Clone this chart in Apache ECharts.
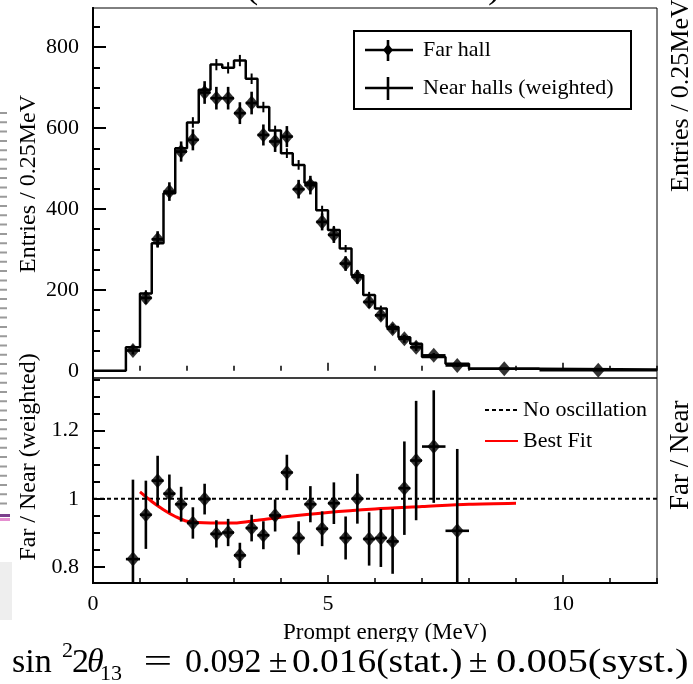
<!DOCTYPE html>
<html>
<head>
<meta charset="utf-8">
<script src="https://cdn.jsdelivr.net/npm/echarts@6/dist/echarts.min.js"></script>
<style>
  html, body { margin: 0; padding: 0; background: #fff; }
  #spectrum { width: 693px; height: 684px; }
</style>
</head>
<body>
<div id="spectrum"></div>
<script>
// prompt energy bins (MeV)
var binLo = [0.7, 1.0, 1.25, 1.5, 1.75, 2.0, 2.25, 2.5, 2.75, 3.0, 3.25, 3.5, 3.75, 4.0, 4.25, 4.5, 4.75, 5.0, 5.25, 5.5, 5.75, 6.0, 6.25, 6.5, 6.75, 7.0, 7.5, 8.0, 9.5];
var binHi = [1.0, 1.25, 1.5, 1.75, 2.0, 2.25, 2.5, 2.75, 3.0, 3.25, 3.5, 3.75, 4.0, 4.25, 4.5, 4.75, 5.0, 5.25, 5.5, 5.75, 6.0, 6.25, 6.5, 6.75, 7.0, 7.5, 8.0, 9.5, 12.0];

// near halls (weighted), entries / 0.25MeV
var nearVal = [58, 191, 315, 439, 550, 614, 695, 757, 749, 767, 722, 652, 594, 538, 509, 465, 397, 348, 302, 236, 187, 154, 108, 83, 67, 34, 17, 5, 3];
var nearErr = [5, 8, 10, 11, 12, 13, 13, 14, 14, 14, 13, 13, 12, 12, 12, 11, 11, 10, 9, 9, 8, 7, 6, 5, 5, 3, 2, 1, 1];

// far hall
var farVal = [50, 180, 325, 443, 542, 571, 688, 674, 674, 637, 662, 583, 567, 579, 449, 459, 368, 336, 265, 232, 170, 137, 104, 79, 58, 38, 13, 5, 1];
var farErr = [10, 15, 20, 23, 25, 26, 28, 28, 28, 27, 28, 26, 26, 26, 23, 23, 21, 20, 18, 17, 15, 13, 12, 10, 9, 6, 4, 2, 1];

// far / near ratio (first 27 bins)
var ratioVal = [0.823, 0.953, 1.053, 1.015, 0.984, 0.929, 0.999, 0.897, 0.901, 0.834, 0.914, 0.893, 0.951, 1.077, 0.885, 0.984, 0.912, 0.987, 0.885, 1.0, 0.882, 0.885, 0.875, 1.031, 1.112, 1.153, 0.906];
var ratioErr = [0.233, 0.1, 0.073, 0.056, 0.051, 0.046, 0.045, 0.04, 0.04, 0.037, 0.039, 0.041, 0.047, 0.052, 0.049, 0.053, 0.051, 0.061, 0.063, 0.073, 0.078, 0.085, 0.095, 0.137, 0.175, 0.165, 0.24];

// best fit curve
var fitE = [1.0, 1.25, 1.5, 1.75, 2.0, 2.5, 3.0, 3.5, 4.0, 5.0, 6.0, 7.0, 8.0, 9.0];
var fitR = [1.02, 0.992, 0.968, 0.948, 0.934, 0.929, 0.929, 0.937, 0.946, 0.96, 0.97, 0.977, 0.984, 0.987];

// axis ticks
var xMinor = [0, 1, 2, 3, 4, 5, 6, 7, 8, 9, 10, 11, 12];
var xMajor = [0, 5, 10];
var yTopMinor = [0, 50, 100, 150, 200, 250, 300, 350, 400, 450, 500, 550, 600, 650, 700, 750, 800, 850];
var yTopMajor = [0, 200, 400, 600, 800];
var yBotMinor = [0.8, 0.85, 0.9, 0.95, 1.0, 1.05, 1.1, 1.15, 1.2, 1.25, 1.3, 1.35];
var yBotMajor = [0.8, 1.0, 1.2];

var FONT = 'Liberation Serif';

// step histogram points
var stepData = [[0, 0]];
for (var i = 0; i < binLo.length; i++) stepData.push([binLo[i], nearVal[i]]);
stepData.push([12, nearVal[nearVal.length - 1]]);

var nearBars = [], farPts = [], farBars = [];
for (var i = 0; i < binLo.length; i++) {
    var c = (binLo[i] + binHi[i]) / 2, hw = (binHi[i] - binLo[i]) / 2;
    nearBars.push([c, nearVal[i], nearErr[i], 0]);
    farPts.push([c, farVal[i]]);
    farBars.push([c, farVal[i], farErr[i], hw]);
}
var ratioPts = [], ratioBars = [];
for (var i = 0; i < ratioVal.length; i++) {
    var c = (binLo[i] + binHi[i]) / 2, hw = (binHi[i] - binLo[i]) / 2;
    ratioPts.push([c, ratioVal[i]]);
    ratioBars.push([c, ratioVal[i], ratioErr[i], hw]);
}
var fitData = fitE.map(function (e, k) { return [e, fitR[k]]; });

function errorBars(width) {
    return function (params, api) {
        var x = api.value(0), y = api.value(1), e = api.value(2), hw = api.value(3);
        var top = api.coord([x, y + e]), bot = api.coord([x, y - e]);
        var kids = [{ type: 'line', shape: { x1: top[0], y1: top[1], x2: bot[0], y2: bot[1] },
            style: { stroke: '#000', lineWidth: width } }];
        if (hw > 0) {
            var l = api.coord([x - hw, y]), r = api.coord([x + hw, y]);
            kids.push({ type: 'line', shape: { x1: l[0], y1: l[1], x2: r[0], y2: r[1] },
                style: { stroke: '#000', lineWidth: width } });
        }
        return { type: 'group', children: kids };
    };
}

function xAxisDef(grid, ticks, len, labels, line) {
    return {
        type: 'value', gridIndex: grid, min: 0, max: 12, position: 'bottom',
        axisLine: { show: line, lineStyle: { color: '#000', width: 2 } },
        axisTick: { inside: true, length: len, customValues: ticks, lineStyle: { color: '#000', width: 1.5 } },
        axisLabel: { show: labels, customValues: ticks, margin: 10, color: '#000', fontFamily: FONT, fontSize: 22 },
        splitLine: { show: false }
    };
}
function yAxisDef(grid, min, max, ticks, len, labels) {
    return {
        type: 'value', gridIndex: grid, min: min, max: max, position: 'left',
        axisLine: { show: true, lineStyle: { color: '#000', width: 2 } },
        axisTick: { inside: true, length: len, customValues: ticks, lineStyle: { color: '#000', width: 2 } },
        axisLabel: { show: labels, customValues: ticks, margin: 14, color: '#000', fontFamily: FONT, fontSize: 22 },
        splitLine: { show: false }
    };
}

// text element; rotate / sx turn it around its anchor point
function txt(x, y, s, size, extra, rotate, sx) {
    var st = { text: s, x: 0, y: 0, fill: '#000', font: size + 'px "' + FONT + '"', align: 'left', verticalAlign: 'middle' };
    for (var k in extra) st[k] = extra[k];
    return { type: 'text', z: 100, x: x, y: y, rotation: rotate || 0, scaleX: sx || 1, style: st };
}

var dom = document.getElementById('spectrum');
var myChart = echarts.init(dom, null, { renderer: 'canvas' });

var option = {
    backgroundColor: '#fff',
    animation: false,
    grid: [
        { left: 93, top: 8, width: 564, height: 370, show: true, borderColor: '#000', borderWidth: 1, backgroundColor: 'transparent' },
        { left: 93, top: 378, width: 564, height: 205, show: true, borderColor: '#000', borderWidth: 1, backgroundColor: 'transparent' }
    ],
    xAxis: [
        xAxisDef(0, xMinor, 5, false, false),
        xAxisDef(0, xMajor, 8, false, false),
        xAxisDef(1, xMinor, 5, false, true),
        xAxisDef(1, xMajor, 8, true, true)
    ],
    yAxis: [
        yAxisDef(0, -18, 897, yTopMinor, 7, false),
        yAxisDef(0, -18, 897, yTopMajor, 13, true),
        yAxisDef(1, 0.753, 1.354, yBotMinor, 7, false),
        yAxisDef(1, 0.753, 1.354, yBotMajor, 12, true)
    ],
    series: [
        // near halls histogram
        {
            type: 'line', xAxisIndex: 0, yAxisIndex: 0, step: 'end', data: stepData,
            symbol: 'none', lineStyle: { color: '#000', width: 2.5 }, z: 2
        },
        {
            type: 'custom', xAxisIndex: 0, yAxisIndex: 0, data: nearBars, clip: true,
            renderItem: errorBars(2), z: 3
        },
        // far hall
        {
            type: 'custom', xAxisIndex: 0, yAxisIndex: 0, data: farBars, clip: true,
            renderItem: errorBars(2.6), z: 4
        },
        {
            type: 'scatter', xAxisIndex: 0, yAxisIndex: 0, data: farPts,
            symbol: 'diamond', symbolSize: [13, 15], itemStyle: { color: '#000' }, z: 5
        },
        // no oscillation
        {
            type: 'line', xAxisIndex: 2, yAxisIndex: 2, data: [[0, 1], [12, 1]],
            symbol: 'none', lineStyle: { color: '#000', width: 2, type: [4, 3] }, z: 2
        },
        // best fit
        {
            type: 'line', xAxisIndex: 2, yAxisIndex: 2, data: fitData, smooth: 0.3,
            symbol: 'none', lineStyle: { color: '#ff0000', width: 3 }, z: 3
        },
        // far / near ratio
        {
            type: 'custom', xAxisIndex: 2, yAxisIndex: 2, data: ratioBars, clip: true,
            renderItem: errorBars(2.6), z: 4
        },
        {
            type: 'scatter', xAxisIndex: 2, yAxisIndex: 2, data: ratioPts,
            symbol: 'diamond', symbolSize: [13, 15], itemStyle: { color: '#000' }, z: 5
        }
    ],
    graphic: [
        // top legend box
        { type: 'rect', z: 100, shape: { x: 354, y: 31, width: 277, height: 78 }, style: { fill: '#fff', stroke: '#000', lineWidth: 2 } },
        { type: 'line', z: 101, shape: { x1: 365, y1: 50, x2: 413, y2: 50 }, style: { stroke: '#000', lineWidth: 2.6 } },
        { type: 'line', z: 101, shape: { x1: 388, y1: 40, x2: 388, y2: 61 }, style: { stroke: '#000', lineWidth: 2.6 } },
        { type: 'polygon', z: 101, shape: { points: [[388, 44], [393, 50], [388, 56], [383, 50]] }, style: { fill: '#000' } },
        { type: 'line', z: 101, shape: { x1: 365, y1: 88, x2: 413, y2: 88 }, style: { stroke: '#000', lineWidth: 2.6 } },
        { type: 'line', z: 101, shape: { x1: 388, y1: 77, x2: 388, y2: 100 }, style: { stroke: '#000', lineWidth: 2.6 } },
        txt(423, 50, 'Far hall', 22),
        txt(423, 88, 'Near halls (weighted)', 22),
        // bottom legend
        { type: 'line', z: 101, shape: { x1: 485, y1: 410, x2: 518, y2: 410 }, style: { stroke: '#000', lineWidth: 2, lineDash: [4, 3] } },
        { type: 'line', z: 101, shape: { x1: 485, y1: 441, x2: 518, y2: 441 }, style: { stroke: '#ff0000', lineWidth: 2 } },
        txt(523, 410, 'No oscillation', 22),
        txt(523, 441, 'Best Fit', 22),
        // y axis titles
        txt(29, 184, 'Entries / 0.25MeV', 24, { align: 'center' }, Math.PI / 2),
        txt(29, 457, 'Far / Near (weighted)', 24, { align: 'center' }, Math.PI / 2),
        txt(681, 192, 'Entries / 0.25MeV', 26, null, Math.PI / 2),
        txt(681, 510, 'Far / Near', 27, null, Math.PI / 2),
        // title fragments at the top
        txt(245, -14, '(', 40),
        txt(488, -14, ')', 40),
        // x axis title, cut by the formula band
        txt(283, 633, 'Prompt energy (MeV)', 23),
        { type: 'rect', z: 110, shape: { x: 0, y: 642, width: 693, height: 42 }, style: { fill: '#fff' } },
        // formula
        txt(12, 663.5, 'sin', 34),
        txt(62, 651.6, '2', 22),
        txt(72, 663.5, '2', 34),
        txt(87, 663.5, 'θ', 34, { font: 'italic 34px "' + FONT + '"' }),
        txt(100, 674.6, '13', 22),
        txt(158, 663.5, '=', 34, { align: 'center' }, 0, 1.5),
        txt(185, 663.5, '0.092', 34),
        txt(278, 663.5, '±', 34, { align: 'center' }),
        txt(292, 663.5, '0.016(stat.)', 34, null, 0, 1.1),
        txt(478, 663.5, '±', 34, { align: 'center' }),
        txt(496, 663.5, '0.005(syst.)', 34, null, 0, 1.2),
        // screenshot leftovers on the left edge
        { type: 'line', z: 90, shape: { x1: 3.5, y1: 112, x2: 3.5, y2: 510 }, style: { stroke: '#9a9a9a', lineWidth: 7, lineDash: [2, 7.3] } },
        { type: 'rect', z: 90, shape: { x: 0, y: 514, width: 10, height: 3 }, style: { fill: '#7b3f8c' } },
        { type: 'rect', z: 90, shape: { x: 0, y: 518, width: 10, height: 3 }, style: { fill: '#e58fd0' } },
        { type: 'rect', z: 90, shape: { x: 0, y: 562, width: 12, height: 58 }, style: { fill: '#eeeeee' } }
    ]
};

// the formula sits above the white band
option.graphic.forEach(function (g) { if (g.type === 'text' && g.y > 640) g.z = 120; });

if (option && typeof option === "object") {
    myChart.setOption(option, true);
}
</script>
</body>
</html>
